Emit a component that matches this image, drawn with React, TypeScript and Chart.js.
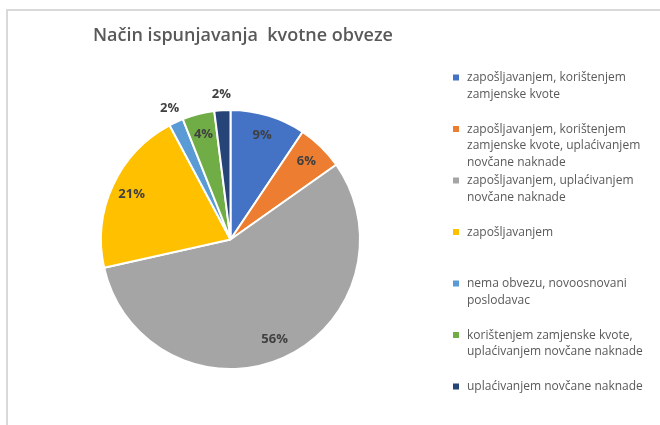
import React, { useEffect, useRef } from "react";
import { Chart, registerables } from "chart.js";

Chart.register(...registerables);

const chartTitle = "Način ispunjavanja  kvotne obveze";

const categories: string[][] = [
  ["zapošljavanjem, korištenjem", "zamjenske kvote"],
  ["zapošljavanjem, korištenjem", "zamjenske kvote, uplaćivanjem", "novčane naknade"],
  ["zapošljavanjem, uplaćivanjem", "novčane naknade"],
  ["zapošljavanjem"],
  ["nema obvezu, novoosnovani", "poslodavac"],
  ["korištenjem zamjenske kvote,", "uplaćivanjem novčane naknade"],
  ["uplaćivanjem novčane naknade"],
];

const values: number[] = [9.4, 5.8, 56.3, 20.7, 1.8, 4.0, 2.0];

const colors: string[] = ["#4472C4", "#ED7D31", "#A5A5A5", "#FFC000", "#5B9BD5", "#70AD47", "#264478"];

const FONT = '"Open Sans", "Noto Sans", sans-serif';

const overlayPlugin = {
  id: "overlay",
  afterDraw(chart: any) {
    const ctx = chart.ctx as CanvasRenderingContext2D;
    ctx.save();
    // border
    ctx.strokeStyle = "#d9d9d9";
    ctx.lineWidth = 2;
    ctx.beginPath();
    ctx.moveTo(7, 430);
    ctx.lineTo(7, 10);
    ctx.lineTo(670, 10);
    ctx.stroke();

    // title
    ctx.fillStyle = "#595959";
    ctx.font = `600 18px ${FONT}`;
    ctx.textBaseline = "middle";
    ctx.textAlign = "left";
    ctx.fillText(chartTitle, 93, 36);

    // legend
    const labels = chart.data.labels as string[][];
    const bg = chart.data.datasets[0].backgroundColor as string[];
    ctx.font = `12px ${FONT}`;
    labels.forEach((lines, i) => {
      const y0 = 78 + i * 51.5;
      ctx.fillStyle = bg[i];
      ctx.fillRect(453, y0 - 3.5, 6, 6);
      ctx.fillStyle = "#595959";
      lines.forEach((ln, j) => {
        ctx.fillText(ln, 467, y0 + j * 16.5);
      });
    });

    // data labels
    const meta = chart.getDatasetMeta(0);
    const data = chart.data.datasets[0].data as number[];
    const total = data.reduce((a, b) => a + b, 0);
    ctx.font = `bold 13px ${FONT}`;
    ctx.fillStyle = "#404040";
    ctx.textAlign = "center";
    meta.data.forEach((arc: any, i: number) => {
      const p = arc.getProps(["x", "y", "startAngle", "endAngle", "outerRadius"], true);
      const pct = (data[i] / total) * 100;
      const mid = (p.startAngle + p.endAngle) / 2;
      const rr = pct < 3 ? p.outerRadius * 1.12 : p.outerRadius * 0.84;
      const x = p.x + Math.cos(mid) * rr;
      const y = p.y + Math.sin(mid) * rr;
      ctx.fillText(Math.round(pct) + "%", x, y);
    });
    ctx.restore();
  },
};

export default function App() {
  const ref = useRef<HTMLCanvasElement>(null);
  useEffect(() => {
    if (!ref.current) return;
    const chart = new Chart(ref.current, {
      type: "pie",
      data: {
        labels: categories as any,
        datasets: [
          {
            data: values,
            backgroundColor: colors,
            borderColor: "#ffffff",
            borderWidth: 2,
          },
        ],
      },
      options: {
        responsive: false,
        animation: false,
        devicePixelRatio: 1,
        layout: { padding: { left: 100, right: 299, top: 109, bottom: 55 } },
        plugins: {
          legend: { display: false },
          title: { display: false },
          tooltip: { enabled: false },
        },
      },
      plugins: [overlayPlugin],
    });
    return () => chart.destroy();
  }, []);
  return (
    <div style={{ position: "absolute", left: 0, top: 0, width: 660, height: 425, background: "#fff" }}>
      <canvas ref={ref} width={660} height={425} />
    </div>
  );
}
